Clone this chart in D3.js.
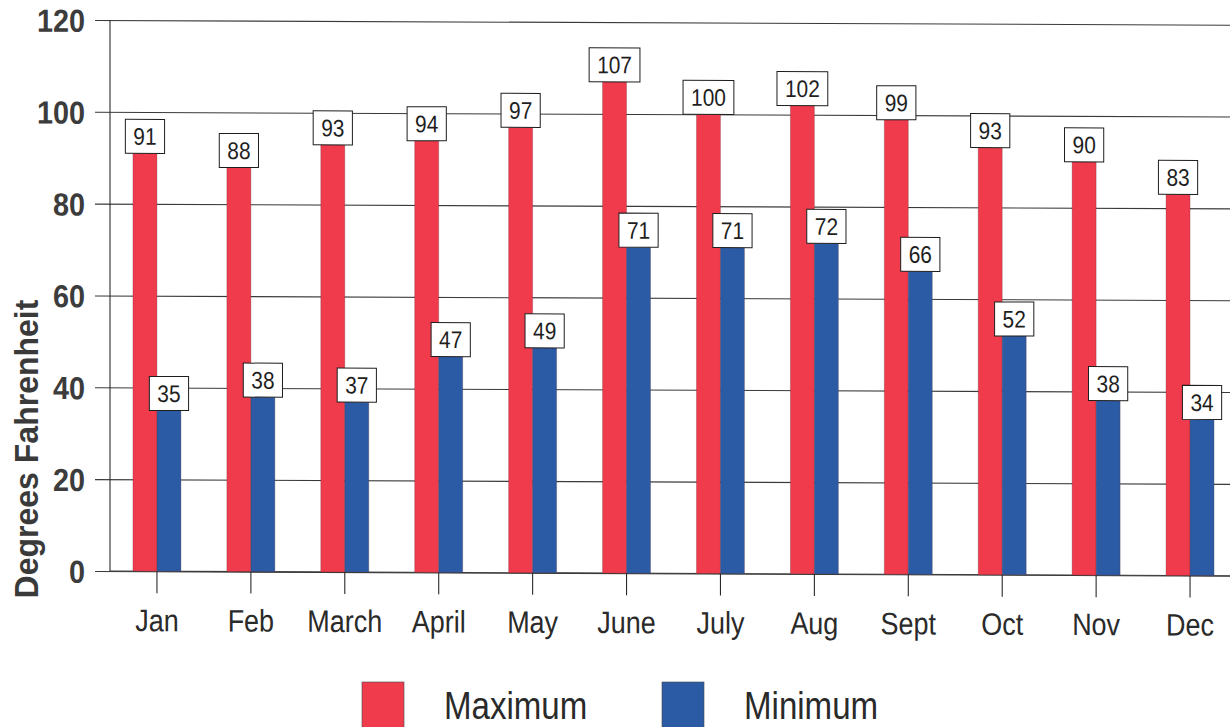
<!DOCTYPE html>
<html>
<head>
<meta charset="utf-8">
<script src="https://cdn.jsdelivr.net/npm/d3@7"></script>
<style>
  html, body { margin: 0; padding: 0; background: #ffffff; }
  svg { display: block; }
  text { font-family: Arial, "Liberation Sans", Helvetica, sans-serif; }
</style>
</head>
<body>
<svg id="chart" width="1230" height="727"></svg>
<script>
// Monthly temperature extremes (degrees Fahrenheit)
const months = ["Jan", "Feb", "March", "April", "May", "June", "July", "Aug", "Sept", "Oct", "Nov", "Dec"];
const maximum = [91, 88, 93, 94, 97, 107, 100, 102, 99, 93, 90, 83];
const minimum = [35, 38, 37, 47, 49, 71, 71, 72, 66, 52, 38, 34];
const seriesNames = ["Maximum", "Minimum"];
const yTicks = [0, 20, 40, 60, 80, 100, 120];

const colors = { Maximum: "#f03b4d", Minimum: "#2c5ba6" };
const SQUASH = 0.87;           // narrow typeface look

const svg = d3.select("#chart");
const marginLeft = 110, marginTop = 20, plotW = 1127, plotH = 551;

const rows = months.map((m, i) => ({ month: m, Maximum: maximum[i], Minimum: minimum[i] }));

const x0 = d3.scaleBand().domain(months).range([0, plotW]).padding(0);
const x1 = d3.scaleBand().domain(seriesNames).range([-24, 24]).padding(0);
const y = d3.scaleLinear().domain([0, 120]).range([plotH, 0]);
const cx = m => x0(m) + x0.bandwidth() / 2;

// plot area, with the slight slant of the printed sheet
const g = svg.append("g")
  .attr("transform", `translate(${marginLeft},${marginTop}) skewY(0.24)`);

// y axis: gridlines extend a little left of the axis as tick marks
const yAxis = d3.axisLeft(y).tickValues(yTicks).tickSize(-(plotW + 15)).tickPadding(10);
const yg = g.append("g").attr("transform", "translate(-15,0)").call(yAxis);
yg.select(".domain").remove();
yg.selectAll(".tick line").attr("stroke", "#3a3a3a").attr("stroke-width", 1.1);
yg.selectAll(".tick text")
  .attr("fill", "#3c3c3c")
  .attr("font-size", 32)
  .attr("font-weight", "bold")
  .attr("x", -11)
  .attr("dy", "0.36em")
  .attr("transform", "scale(0.9,1)");

// vertical axis line
g.append("line")
  .attr("x1", 0).attr("x2", 0)
  .attr("y1", y(120)).attr("y2", y(0))
  .attr("stroke", "#2a2a2a").attr("stroke-width", 1.1);

// x axis ticks at each month centre
const xAxis = d3.axisBottom(x0).tickSize(22).tickPadding(0);
const xg = g.append("g").attr("transform", `translate(0,${plotH})`).call(xAxis);
xg.select(".domain").attr("stroke", "#3a3a3a").attr("stroke-width", 1.1)
  .attr("d", `M0,0H${plotW}`);
xg.selectAll(".tick line").attr("stroke", "#2a2a2a").attr("stroke-width", 1.1);
xg.selectAll(".tick text")
  .attr("fill", "#2a2a2a")
  .attr("font-size", 31)
  .attr("y", 60)
  .attr("dy", 0)
  .attr("transform", `scale(${SQUASH},1)`);

// bars
const groups = g.append("g").selectAll("g")
  .data(rows).join("g")
  .attr("transform", d => `translate(${cx(d.month)},0)`);

groups.selectAll("rect")
  .data(d => seriesNames.map(k => ({ key: k, value: d[k] })))
  .join("rect")
  .attr("x", d => x1(d.key))
  .attr("width", x1.bandwidth())
  .attr("y", d => y(d.value))
  .attr("height", d => y(0) - y(d.value))
  .attr("fill", d => colors[d.key])
  .attr("stroke", "#5a2a30")
  .attr("stroke-opacity", 0.35)
  .attr("stroke-width", 0.8);

// boxed value labels sitting on top of each bar
const labelFont = 24;
const boxW = v => String(v).length * 0.556 * labelFont * SQUASH + 16;
const labels = groups.selectAll("g.lbl")
  .data(d => seriesNames.map(k => ({ key: k, value: d[k] })))
  .join("g")
  .attr("class", "lbl")
  .attr("transform", d => `translate(${x1(d.key) + x1.bandwidth() / 2},${y(d.value)})`);

labels.append("rect")
  .attr("x", d => -boxW(d.value) / 2)
  .attr("width", d => boxW(d.value))
  .attr("y", -34)
  .attr("height", 34)
  .attr("fill", "#ffffff")
  .attr("stroke", "#1e1e1e")
  .attr("stroke-width", 1);

labels.append("text")
  .attr("transform", `translate(0,-8.5) scale(${SQUASH},1)`)
  .attr("text-anchor", "middle")
  .attr("font-size", labelFont)
  .attr("fill", "#1e1e1e")
  .text(d => d.value);

// y axis title
svg.append("text")
  .attr("transform", "translate(38,449) scale(1,0.97) rotate(-90)")
  .attr("text-anchor", "middle")
  .attr("font-size", 33)
  .attr("font-weight", "bold")
  .attr("fill", "#3a3a3a")
  .text("Degrees Fahrenheit");

// legend
const legendX = [362, 662];
const legend = svg.append("g").selectAll("g")
  .data(seriesNames).join("g")
  .attr("transform", (d, i) => `translate(${legendX[i]},682)`);

legend.append("rect")
  .attr("width", 42).attr("height", 48)
  .attr("fill", d => colors[d])
  .attr("stroke", "#4a4a4a").attr("stroke-opacity", 0.6).attr("stroke-width", 1);

legend.append("text")
  .attr("transform", `translate(82,37) scale(${SQUASH},1)`)
  .attr("font-size", 38)
  .attr("fill", "#2a2a2a")
  .text(d => d);
</script>
</body>
</html>
